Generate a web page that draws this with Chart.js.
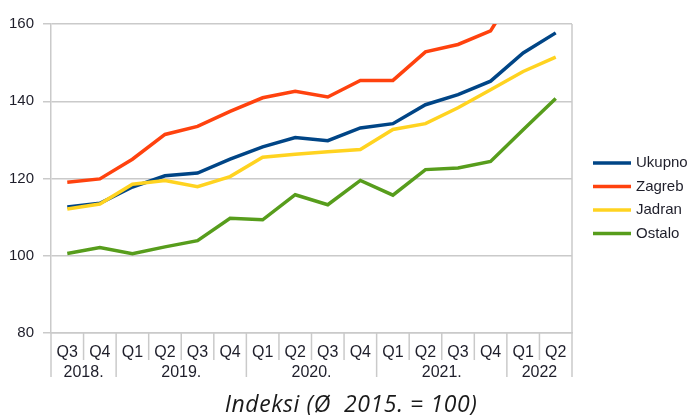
<!DOCTYPE html>
<html>
<head>
<meta charset="utf-8">
<script src="https://cdn.jsdelivr.net/npm/chart.js@4/dist/chart.umd.min.js"></script>
<style>
  html, body { margin: 0; padding: 0; background: #ffffff; }
  #wrap { width: 697px; height: 415px; position: relative; }
</style>
</head>
<body>
<div id="wrap"><canvas id="c" width="697" height="415"></canvas></div>
<script>
const quarters = ["Q3","Q4","Q1","Q2","Q3","Q4","Q1","Q2","Q3","Q4","Q1","Q2","Q3","Q4","Q1","Q2"];
const years = ["2018.","2019.","2020.","2021.","2022"];
const yearSpans = [2,4,4,4,2];
const ukupno = [112.6,113.6,117.8,120.7,121.4,125.0,128.2,130.6,129.8,133.1,134.2,139.1,141.7,145.2,152.5,157.7];
const zagreb = [119.0,119.9,125.0,131.4,133.5,137.4,140.9,142.6,141.1,145.4,145.4,152.8,154.7,158.2,172.0,176.0];
const jadran = [112.1,113.4,118.5,119.5,117.9,120.5,125.5,126.3,126.9,127.5,132.7,134.2,138.3,143.0,147.7,151.4];
const ostalo = [100.6,102.1,100.5,102.3,103.9,109.7,109.3,115.8,113.2,119.5,115.7,122.3,122.7,124.4,132.6,140.7];
const seriesNames = ["Ukupno","Zagreb","Jadran","Ostalo"];
const seriesColors = ["#004586","#ff420e","#ffd320","#579d1c"];
const yTicks = [80,100,120,140,160];
const titleText = "Indeksi (Ø  2015. = 100)";

const gridColor = "#cacaca";
const textColor = "#1e1e2a";

const extras = {
  id: "extras",
  afterDraw(chart) {
    const ctx = chart.ctx;
    const ca = chart.chartArea;
    const xs = chart.scales.x;
    const half = (xs.getPixelForValue(1) - xs.getPixelForValue(0)) / 2;
    ctx.save();
    // right border
    ctx.strokeStyle = gridColor;
    ctx.lineWidth = 1.5;
    ctx.beginPath();
    ctx.moveTo(ca.right, ca.top);
    ctx.lineTo(ca.right, ca.bottom);
    ctx.stroke();
    // separators
    const yearBounds = [0];
    let acc = 0;
    yearSpans.forEach(s => { acc += s; yearBounds.push(acc); });
    for (let k = 0; k <= quarters.length; k++) {
      const x = xs.getPixelForValue(0) - half + k * 2 * half;
      const isYear = yearBounds.includes(k);
      ctx.beginPath();
      ctx.moveTo(x, ca.bottom);
      ctx.lineTo(x, ca.bottom + (isYear ? 44 : 27));
      ctx.stroke();
    }
    // year labels
    ctx.fillStyle = textColor;
    ctx.font = "16px 'Liberation Sans'";
    ctx.textAlign = "center";
    ctx.textBaseline = "middle";
    let start = 0;
    years.forEach((y, i) => {
      const end = start + yearSpans[i] - 1;
      const cx = (xs.getPixelForValue(start) + xs.getPixelForValue(end)) / 2;
      ctx.fillText(y, cx, ca.bottom + 40);
      start = end + 1;
    });
    // legend
    ctx.font = "15px 'Liberation Sans'";
    ctx.textAlign = "left";
    seriesNames.forEach((n, i) => {
      const y = 163 + i * 23.5;
      ctx.strokeStyle = seriesColors[i];
      ctx.lineWidth = 3.5;
      ctx.beginPath();
      ctx.moveTo(593, y);
      ctx.lineTo(631, y);
      ctx.stroke();
      ctx.fillStyle = textColor;
      ctx.fillText(n, 636, y);
    });
    // title
    ctx.font = "italic 23px 'Open Sans'";
    ctx.textAlign = "center";
    ctx.textBaseline = "alphabetic";
    try { ctx.letterSpacing = "0.6px"; } catch (e) {}
    ctx.fillStyle = "#1a1a1a";
    ctx.fillText(titleText, 351, 412);
    ctx.restore();
  }
};

const data = [ukupno, zagreb, jadran, ostalo];
const orders = [2, 3, 0, 1];

new Chart(document.getElementById("c"), {
  type: "line",
  data: {
    labels: quarters,
    datasets: seriesNames.map((n, i) => ({
      label: n,
      data: data[i],
      borderColor: seriesColors[i],
      backgroundColor: seriesColors[i],
      borderWidth: 3.5,
      pointRadius: 0,
      tension: 0,
      order: orders[i],
      clip: 0
    }))
  },
  options: {
    responsive: false,
    animation: false,
    devicePixelRatio: 1,
    layout: { padding: { top: 24, right: 125, bottom: 0, left: 0 } },
    plugins: { legend: { display: false }, tooltip: { enabled: false }, title: { display: false } },
    scales: {
      x: {
        offset: true,
        grid: { display: false, drawTicks: false },
        border: { display: true, color: gridColor, width: 1.5 },
        ticks: { autoSkip: false, maxRotation: 0, padding: 10, color: textColor, font: { family: "Liberation Sans", size: 16 } },
        afterFit(s) { s.height = 82; }
      },
      y: {
        min: 80, max: 160,
        afterBuildTicks(s) { s.ticks = yTicks.map(v => ({ value: v })); },
        grid: { color: gridColor, lineWidth: 1.5, tickLength: 8, drawTicks: true },
        border: { display: true, color: gridColor, width: 1.5 },
        ticks: { padding: 9, color: textColor, font: { family: "Liberation Sans", size: 15 } },
        afterFit(s) { s.width = 51; }
      }
    }
  },
  plugins: [extras]
});
</script>
</body>
</html>
